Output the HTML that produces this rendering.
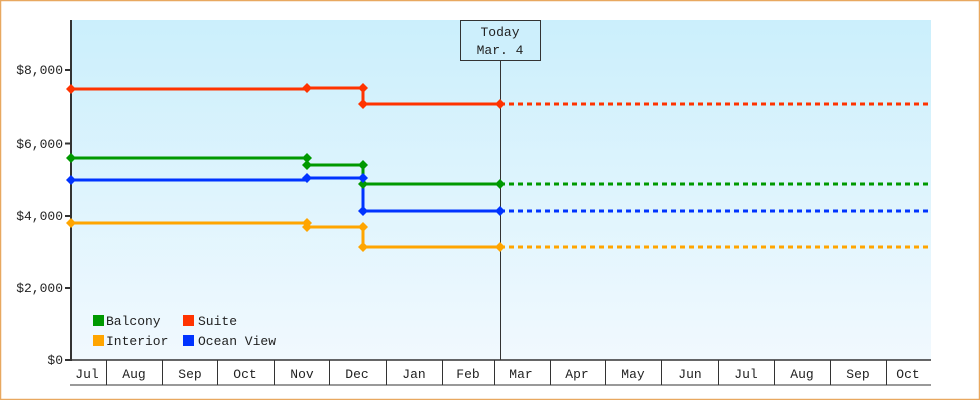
<!DOCTYPE html><html><head><style>body{margin:0;background:#fff}svg text{font-family:"Liberation Mono",monospace;font-size:13px;fill:#222}</style></head><body>
<svg width="980" height="400" xmlns="http://www.w3.org/2000/svg">
<defs><linearGradient id="g" x1="0" y1="0" x2="0" y2="1"><stop offset="0" stop-color="#cbeffc"/><stop offset="1" stop-color="#f1f9fe"/></linearGradient></defs>
<rect x="0.5" y="0.5" width="979" height="399" fill="#fff" stroke="#e8a860" stroke-width="1.5"/>
<rect x="71" y="20" width="860" height="340" fill="url(#g)"/>
<line x1="71" y1="20" x2="71" y2="361" stroke="#333" stroke-width="2"/>
<line x1="71" y1="360" x2="931" y2="360" stroke="#333" stroke-width="1.5"/>
<line x1="70" y1="385" x2="931" y2="385" stroke="#333" stroke-width="1"/>
<g stroke="#333" stroke-width="2"><line x1="65" y1="70" x2="71" y2="70"/><line x1="65" y1="143.5" x2="71" y2="143.5"/><line x1="65" y1="216" x2="71" y2="216"/><line x1="65" y1="288" x2="71" y2="288"/><line x1="65" y1="360" x2="71" y2="360"/></g>
<g text-anchor="end"><text x="63" y="74">$8,000</text><text x="63" y="148">$6,000</text><text x="63" y="220">$4,000</text><text x="63" y="292">$2,000</text><text x="63" y="364">$0</text></g>
<g stroke="#333" stroke-width="1"><line x1="106.5" y1="360" x2="106.5" y2="385"/><line x1="162.5" y1="360" x2="162.5" y2="385"/><line x1="217.5" y1="360" x2="217.5" y2="385"/><line x1="274.5" y1="360" x2="274.5" y2="385"/><line x1="329.5" y1="360" x2="329.5" y2="385"/><line x1="386.5" y1="360" x2="386.5" y2="385"/><line x1="442.5" y1="360" x2="442.5" y2="385"/><line x1="494.5" y1="360" x2="494.5" y2="385"/><line x1="550.5" y1="360" x2="550.5" y2="385"/><line x1="605.5" y1="360" x2="605.5" y2="385"/><line x1="661.5" y1="360" x2="661.5" y2="385"/><line x1="718.5" y1="360" x2="718.5" y2="385"/><line x1="774.5" y1="360" x2="774.5" y2="385"/><line x1="830.5" y1="360" x2="830.5" y2="385"/><line x1="886.5" y1="360" x2="886.5" y2="385"/></g>
<g text-anchor="middle"><text x="87" y="378">Jul</text><text x="134" y="378">Aug</text><text x="190" y="378">Sep</text><text x="245" y="378">Oct</text><text x="302" y="378">Nov</text><text x="357" y="378">Dec</text><text x="414" y="378">Jan</text><text x="468" y="378">Feb</text><text x="521" y="378">Mar</text><text x="577" y="378">Apr</text><text x="633" y="378">May</text><text x="690" y="378">Jun</text><text x="746" y="378">Jul</text><text x="802" y="378">Aug</text><text x="858" y="378">Sep</text><text x="908" y="378">Oct</text></g>
<line x1="500.5" y1="60" x2="500.5" y2="360" stroke="#333" stroke-width="1"/>
<rect x="460.5" y="20.5" width="80" height="40" fill="#cdeffc" stroke="#333"/>
<text x="500" y="36" text-anchor="middle">Today</text><text x="500" y="54" text-anchor="middle">Mar. 4</text>
<g fill="none" stroke-width="3">
<polyline stroke="#ff3300" points="71,89 307,89 307,88 363,88 363,104 500,104"/>
<polyline stroke="#009900" points="71,158 307,158 307,165 363,165 363,184 500,184"/>
<polyline stroke="#0033ff" points="71,180 307,180 307,178 363,178 363,211 500,211"/>
<polyline stroke="#ffa500" points="71,223 307,223 307,227 363,227 363,247 500,247"/>
<g stroke-dasharray="5,4"><line x1="500" y1="104" x2="931" y2="104" stroke="#ff3300"/><line x1="500" y1="184" x2="931" y2="184" stroke="#009900"/><line x1="500" y1="211" x2="931" y2="211" stroke="#0033ff"/><line x1="500" y1="247" x2="931" y2="247" stroke="#ffa500"/></g>
</g>
<g>
<g fill="#ff3300"><path d="M71,84l5,5l-5,5l-5,-5z"/><path d="M307,83l5,5l-5,5l-5,-5z"/><path d="M363,83l5,5l-5,5l-5,-5z"/><path d="M363,99l5,5l-5,5l-5,-5z"/><path d="M500,99l5,5l-5,5l-5,-5z"/></g>
<g fill="#009900"><path d="M71,153l5,5l-5,5l-5,-5z"/><path d="M307,153l5,5l-5,5l-5,-5z"/><path d="M307,160l5,5l-5,5l-5,-5z"/><path d="M363,160l5,5l-5,5l-5,-5z"/><path d="M363,179l5,5l-5,5l-5,-5z"/><path d="M500,179l5,5l-5,5l-5,-5z"/></g>
<g fill="#0033ff"><path d="M71,175l5,5l-5,5l-5,-5z"/><path d="M307,173l5,5l-5,5l-5,-5z"/><path d="M363,173l5,5l-5,5l-5,-5z"/><path d="M363,206l5,5l-5,5l-5,-5z"/><path d="M500,206l5,5l-5,5l-5,-5z"/></g>
<g fill="#ffa500"><path d="M71,218l5,5l-5,5l-5,-5z"/><path d="M307,218l5,5l-5,5l-5,-5z"/><path d="M307,222l5,5l-5,5l-5,-5z"/><path d="M363,222l5,5l-5,5l-5,-5z"/><path d="M363,242l5,5l-5,5l-5,-5z"/><path d="M500,242l5,5l-5,5l-5,-5z"/></g>
</g>
<rect x="93" y="315" width="11" height="11" fill="#009900"/><text x="106" y="325">Balcony</text>
<rect x="183" y="315" width="11" height="11" fill="#ff3300"/><text x="198" y="325">Suite</text>
<rect x="93" y="335" width="11" height="11" fill="#ffa500"/><text x="106" y="345">Interior</text>
<rect x="183" y="335" width="11" height="11" fill="#0033ff"/><text x="198" y="345">Ocean View</text>
</svg></body></html>
